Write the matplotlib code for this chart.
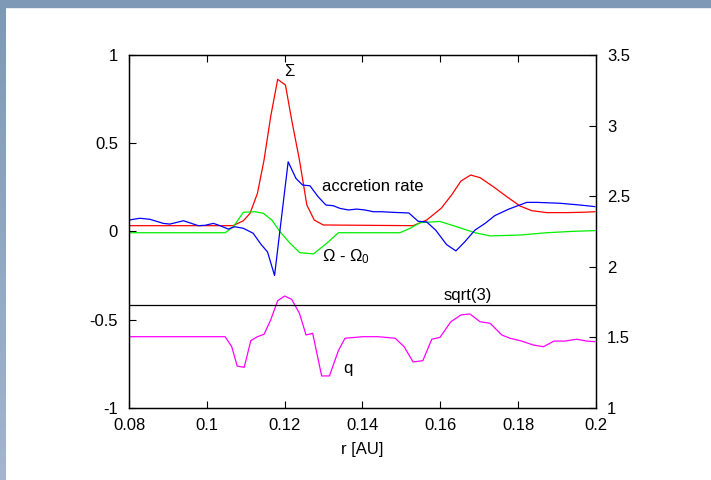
import numpy as np
import matplotlib
matplotlib.use("Agg")
import matplotlib.pyplot as plt
from matplotlib.patches import Rectangle

plt.rcParams['font.family'] = ['Liberation Sans', 'DejaVu Sans']
plt.rcParams['mathtext.default'] = 'regular'
plt.rcParams['font.size'] = 12

# Sigma (left axis)
r_sigma = [0.0800, 0.1067, 0.1094, 0.1111, 0.1130, 0.1147, 0.1164, 0.1182, 0.1202,
           0.1218, 0.1238, 0.1257, 0.1276, 0.1299, 0.1530, 0.1565, 0.1602, 0.1629,
           0.1653, 0.1678, 0.1702, 0.1736, 0.1771, 0.1805, 0.1835, 0.1873, 0.1925,
           0.1967, 0.1997]
sigma = [0.033, 0.033, 0.061, 0.103, 0.216, 0.405, 0.650, 0.862, 0.830,
         0.632, 0.405, 0.150, 0.065, 0.037, 0.033, 0.065, 0.131, 0.207,
         0.286, 0.320, 0.305, 0.254, 0.197, 0.144, 0.118, 0.107, 0.107,
         0.109, 0.112]

# accretion rate (left axis)
r_acc = [0.0800, 0.0828, 0.0854, 0.0888, 0.0905, 0.0940, 0.0978, 0.0995, 0.1017,
         0.1034, 0.1055, 0.1072, 0.1094, 0.1119, 0.1139, 0.1156, 0.1174, 0.1209,
         0.1229, 0.1246, 0.1265, 0.1286, 0.1306, 0.1325, 0.1342, 0.1364, 0.1385,
         0.1406, 0.1428, 0.1449, 0.1484, 0.1519, 0.1543, 0.1565, 0.1588, 0.1616,
         0.1640, 0.1663, 0.1689, 0.1715, 0.1740, 0.1775, 0.1822, 0.1848, 0.1907,
         0.1959, 0.1997]
acc = [0.065, 0.075, 0.069, 0.046, 0.042, 0.061, 0.033, 0.035, 0.046,
       0.033, 0.014, 0.027, 0.018, -0.010, -0.072, -0.116, -0.249, 0.395,
       0.301, 0.263, 0.259, 0.197, 0.150, 0.146, 0.131, 0.122, 0.127,
       0.122, 0.112, 0.112, 0.108, 0.105, 0.058, 0.054, 0.008, -0.074,
       -0.110, -0.058, 0.008, 0.046, 0.090, 0.126, 0.165, 0.165, 0.160,
       0.150, 0.141]

# Omega - Omega_0 (left axis)
r_omega = [0.0800, 0.1047, 0.1068, 0.1094, 0.1124, 0.1145, 0.1167, 0.1188, 0.1214,
           0.1239, 0.1274, 0.1308, 0.1338, 0.1496, 0.1522, 0.1548, 0.1599, 0.1642,
           0.1689, 0.1728, 0.1805, 0.1873, 0.1942, 0.1997]
omega = [-0.007, -0.007, 0.027, 0.109, 0.112, 0.103, 0.065, -0.001, -0.067,
         -0.120, -0.127, -0.067, -0.007, -0.007, 0.018, 0.050, 0.057, 0.027,
         -0.007, -0.025, -0.020, -0.007, 0.001, 0.005]

# q (right axis)
r_q = [0.0800, 0.1047, 0.1064, 0.1078, 0.1096, 0.1113, 0.1130, 0.1147, 0.1164,
       0.1182, 0.1200, 0.1218, 0.1238, 0.1255, 0.1272, 0.1295, 0.1315, 0.1338,
       0.1355, 0.1401, 0.1440, 0.1484, 0.1507, 0.1530, 0.1555, 0.1578, 0.1599,
       0.1627, 0.1653, 0.1676, 0.1702, 0.1728, 0.1758, 0.1779, 0.1809, 0.1839,
       0.1865, 0.1892, 0.1920, 0.1950, 0.1976, 0.1997]
q = [1.505, 1.505, 1.434, 1.297, 1.288, 1.477, 1.505, 1.522, 1.623,
     1.760, 1.793, 1.770, 1.670, 1.517, 1.529, 1.227, 1.227, 1.406,
     1.494, 1.505, 1.505, 1.494, 1.434, 1.326, 1.335, 1.487, 1.500,
     1.611, 1.659, 1.666, 1.611, 1.600, 1.517, 1.494, 1.474, 1.446,
     1.434, 1.474, 1.474, 1.487, 1.474, 1.470]

x_ticks = [0.08, 0.1, 0.12, 0.14, 0.16, 0.18, 0.2]
x_labels = ["0.08", "0.1", "0.12", "0.14", "0.16", "0.18", "0.2"]
y_ticks = [-1, -0.5, 0, 0.5, 1]
y_labels = ["-1", "-0.5", "0", "0.5", "1"]
y2_ticks = [1, 1.5, 2, 2.5, 3, 3.5]
y2_labels = ["1", "1.5", "2", "2.5", "3", "3.5"]

fig = plt.figure(figsize=(7.11, 4.80), dpi=100)

# slide frame
fig.patches.append(Rectangle((0, 1 - 7 / 480), 1, 7 / 480, transform=fig.transFigure,
                             color="#7e99b6", zorder=0))
strip = fig.add_axes([0, 0, 6 / 711, 1 - 7 / 480])
grad = np.linspace(0, 1, 200).reshape(-1, 1)
strip.imshow(grad, aspect="auto", cmap=matplotlib.colors.LinearSegmentedColormap.from_list(
    "frame", ["#7e99b6", "#a3b5cf"]), extent=[0, 1, 0, 1])
strip.axis("off")

ax = fig.add_axes([129 / 711, 72 / 480, 467 / 711, 353 / 480])
ax2 = ax.twinx()

lw = 0.9
ax.plot(r_sigma, sigma, color="#ff0000", lw=lw)
ax.plot(r_omega, omega, color="#00ee00", lw=lw)
ax.plot(r_acc, acc, color="#0000ff", lw=lw)
ax2.plot(r_q, q, color="#ff00ff", lw=lw)
ax2.axhline(np.sqrt(3), color="black", lw=lw)

ax.set_xlim(0.08, 0.2)
ax.set_ylim(-1, 1)
ax2.set_ylim(1, 3.5)

ax.set_xticks(x_ticks, x_labels)
ax.set_yticks(y_ticks, y_labels)
ax2.set_yticks(y2_ticks, y2_labels)

ax.tick_params(axis="both", direction="in", length=5, width=0.8, top=True, right=False)
ax.tick_params(axis="x", pad=7)
ax.tick_params(axis="y", pad=8)
ax2.tick_params(axis="y", direction="in", length=5, width=0.8, pad=8)
for a in (ax, ax2):
    for s in a.spines.values():
        s.set_linewidth(0.9)

ax.set_xlabel("r [AU]", labelpad=7)

ax.text(0.1211, 0.905, "Σ", ha="center", va="center")
ax.text(0.1297, 0.255, "accretion rate", ha="left", va="center")
ax.text(0.1297, -0.145, "Ω - Ω$_0$", ha="left", va="center")
ax2.text(0.1671, 1.745, "sqrt(3)", ha="center", va="bottom")
ax2.text(0.1362, 1.28, "q", ha="center", va="center")

fig.savefig("out.png", dpi=100)
